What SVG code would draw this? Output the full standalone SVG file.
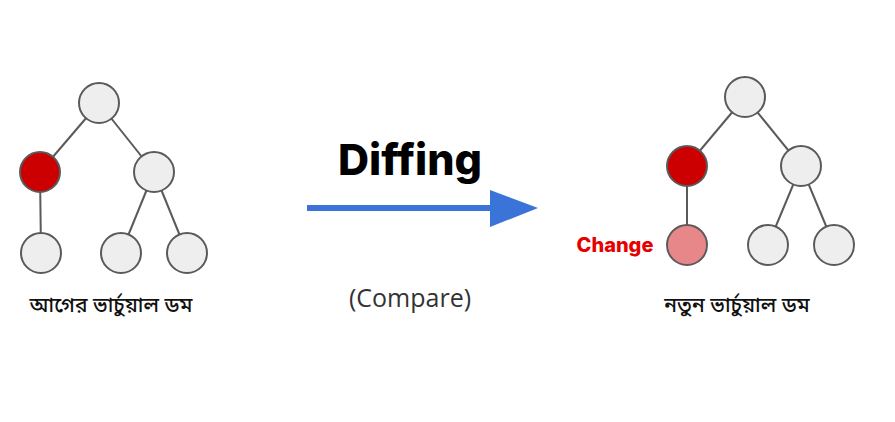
<svg xmlns="http://www.w3.org/2000/svg" width="895" height="422" viewBox="0 0 895 422">
<style>
.n{fill:#eeeeef;stroke:#5a5a5a;stroke-width:2}
.r{fill:#cc0000;stroke:#5a5a5a;stroke-width:2}
.p{fill:#e8878a;stroke:#5a5a5a;stroke-width:2}
.e{stroke:#5a5a5a;stroke-width:2;fill:none}
.bn{font-family:"Noto Sans Bengali","Noto Serif Bengali","Noto Sans",sans-serif;font-size:21px;font-weight:500;fill:#111;text-anchor:middle}
</style>
<rect width="895" height="422" fill="#ffffff"/>
<g id="edges">
<line class="e" x1="99" y1="103" x2="40" y2="172"/>
<line class="e" x1="99" y1="103" x2="154" y2="172"/>
<line class="e" x1="40" y1="172" x2="41" y2="253"/>
<line class="e" x1="154" y1="172" x2="121" y2="253"/>
<line class="e" x1="154" y1="172" x2="187" y2="253"/>
<line class="e" x1="745" y1="97" x2="687" y2="166"/>
<line class="e" x1="745" y1="97" x2="801" y2="166"/>
<line class="e" x1="687" y1="166" x2="687" y2="245"/>
<line class="e" x1="801" y1="166" x2="768" y2="245"/>
<line class="e" x1="801" y1="166" x2="834" y2="245"/>
<line x1="307" y1="208" x2="494" y2="208" stroke="#3a74d8" stroke-width="6"/>
<polygon points="490,190 538,208 490,227" fill="#3a74d8"/>
</g>
<g id="old-root"><circle class="n" cx="99" cy="103" r="20"/></g>
<g id="old-a"><circle class="r" cx="40" cy="172" r="20"/></g>
<g id="old-b"><circle class="n" cx="154" cy="172" r="20"/></g>
<g id="old-a1"><circle class="n" cx="41" cy="253" r="20"/></g>
<g id="old-b1"><circle class="n" cx="121" cy="253" r="20"/></g>
<g id="old-b2"><circle class="n" cx="187" cy="253" r="20"/></g>
<g id="new-root"><circle class="n" cx="745" cy="97" r="20"/></g>
<g id="new-a"><circle class="r" cx="687" cy="166" r="20"/></g>
<g id="new-b"><circle class="n" cx="801" cy="166" r="20"/></g>
<g id="new-a1"><circle class="p" cx="687" cy="245" r="20"/></g>
<g id="new-b1"><circle class="n" cx="768" cy="245" r="20"/></g>
<g id="new-b2"><circle class="n" cx="834" cy="245" r="20"/></g>
<g id="labels">
<text class="bn" x="111" y="312">আগের ভার্চুয়াল ডম</text>
<text class="bn" x="737" y="312">নতুন ভার্চুয়াল ডম</text>
<text x="410" y="175" font-family="Inter,'Liberation Sans',sans-serif" font-weight="800" font-size="43" text-anchor="middle" fill="#000">Diffing</text>
<text x="410" y="307" font-family="'Open Sans','Liberation Sans',sans-serif" font-size="25" text-anchor="middle" fill="#333">(Compare)</text>
<text x="615" y="252" font-family="Inter,'Liberation Sans',sans-serif" font-weight="800" font-size="20" text-anchor="middle" fill="#e60000">Change</text>
</g>
</svg>
